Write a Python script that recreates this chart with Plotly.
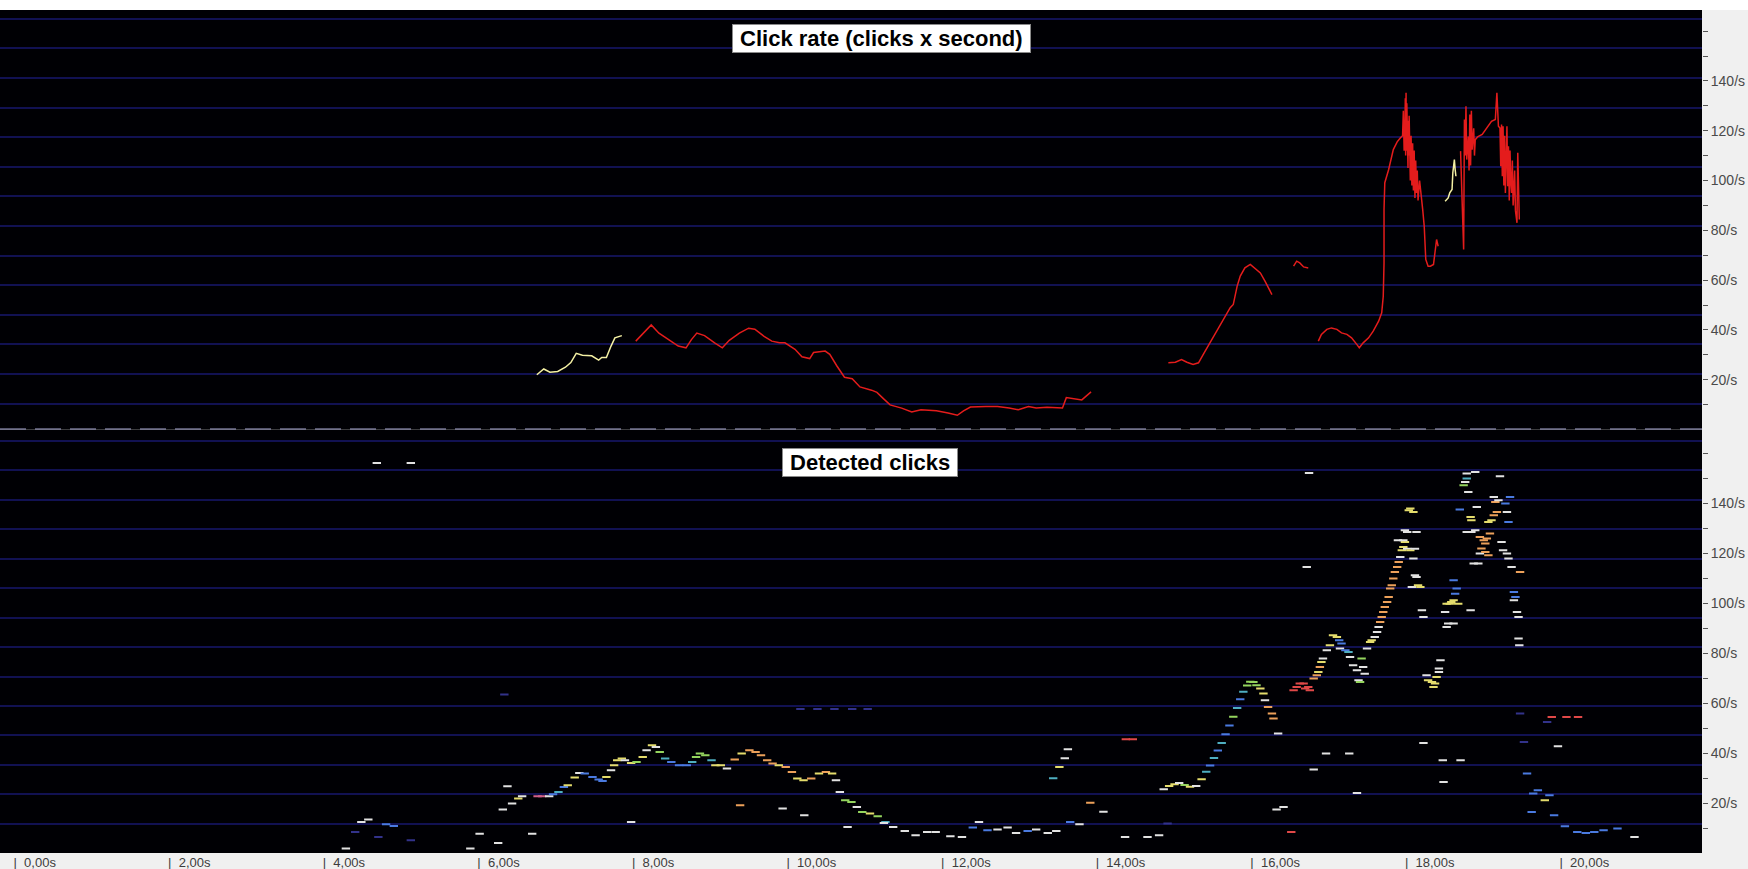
import plotly.graph_objects as go

# ---------------- data ----------------
# Click rate (top panel), seconds / clicks per second.  None = gap in the curve
rate_red_t = [8.05, 8.15, 8.25, 8.35, 8.47, 8.60, 8.70, 8.77, 8.84, 8.94, 9.07, 9.17, 9.26, 9.39, 9.51,
              9.59, 9.71, 9.81, 9.91, 9.98, 10.11, 10.20, 10.30, 10.35, 10.50, 10.56, 10.65, 10.75, 10.85,
              10.95, 11.10, 11.17, 11.25, 11.34, 11.49, 11.62, 11.74, 11.94, 12.09, 12.21, 12.29, 12.38,
              12.58, 12.73, 12.88, 13.00, 13.13, 13.23, 13.37, 13.57, 13.62, 13.72, 13.82, 13.94,
              None,
              14.94, 15.03, 15.11, 15.18, 15.26, 15.33, 15.39, 15.48, 15.57, 15.65, 15.74, 15.78, 15.83,
              15.87, 15.93, 16.00, 16.06, 16.13, 16.19, 16.23, 16.28,
              None,
              16.56, 16.60, 16.64, 16.69, 16.75,
              None,
              16.88, 16.92, 16.99, 17.05, 17.12, 17.18, 17.25, 17.31, 17.38, 17.41, 17.46, 17.53, 17.59,
              17.66, 17.70, 17.72, 17.73, 17.73, 17.74, 17.79, 17.85, 17.90, 17.94, 17.97, 17.98, 17.99,
              18.00, 18.005, 18.01, 18.015, 18.02, 18.025, 18.03, 18.035, 18.04, 18.045, 18.05, 18.055,
              18.06, 18.065, 18.07, 18.08, 18.09, 18.10, 18.11, 18.12, 18.13, 18.14, 18.15, 18.16, 18.17,
              18.19, 18.21, 18.23, 18.25, 18.26, 18.27, 18.30, 18.33, 18.37, 18.39, 18.41, 18.43,
              None,
              18.72, 18.76, 18.77, 18.78, 18.79, 18.80, 18.82, 18.83, 18.84, 18.85, 18.86, 18.87, 18.89,
              18.90, 18.91, 18.94, 19.00, 19.06, 19.12, 19.17, 19.19, 19.21, 19.23, 19.24, 19.25, 19.26,
              19.27, 19.28, 19.29, 19.30, 19.32, 19.33, 19.34, 19.35, 19.36, 19.37, 19.38, 19.39, 19.40,
              19.41, 19.42, 19.43, 19.45, 19.46, 19.47, 19.48]
rate_red_v = [35.5, 38.7, 42.0, 38.7, 36.1, 33.5, 32.8, 36.1, 38.7, 37.7, 34.8, 32.8, 35.8, 38.7, 40.7,
              40.3, 37.4, 35.5, 34.8, 34.8, 32.2, 29.2, 28.5, 30.9, 31.5, 30.2, 25.6, 21.0, 20.4,
              17.1, 15.8, 14.9, 12.5, 9.9, 8.6, 7.0, 7.9, 7.5, 6.6, 5.7, 7.5, 9.0,
              9.2, 9.2, 8.6, 7.9, 9.2, 8.6, 8.9, 8.6, 12.8, 12.5, 11.9, 15.1,
              None,
              26.8, 27.0, 28.1, 27.0, 26.1, 26.8, 30.1, 34.8, 39.5, 44.2, 48.9, 50.2, 57.6,
              61.6, 64.9, 66.3, 64.9, 62.9, 59.6, 56.9, 54.2,
              None,
              65.6, 67.6, 66.9, 65.3, 64.9,
              None,
              35.5, 38.2, 40.2, 40.8, 40.2, 38.8, 38.2, 36.8, 34.1, 32.8, 34.8, 36.8, 39.5,
              43.5, 46.9, 53.5, 66.9, 88.4, 99.1, 104.4, 112.4, 115.5, 117.1, 118.0, 128.0, 112.0,
              118.5, 133.0, 110.0, 135.2, 112.0, 131.0, 108.0, 127.0, 105.0, 124.0, 110.0, 126.0,
              103.0, 120.0, 100.0, 118.0, 98.0, 115.0, 96.0, 112.0, 93.0, 108.0, 95.0, 104.0, 92.0,
              100.0, 92.4, 88.4, 81.6, 73.6, 68.3, 65.6, 65.6, 66.3, 71.0, 76.3, 73.6,
              None,
              111.8, 72.3, 124.5, 110.0, 129.8, 108.4, 117.7, 104.0, 126.5, 106.0, 128.0, 112.4, 121.0,
              110.0, 116.4, 117.5, 118.5, 121.1, 123.8, 124.5, 135.2, 121.8, 121.1, 105.7, 122.5, 101.7,
              121.8, 98.0, 118.0, 95.0, 121.8, 97.7, 113.8, 92.0, 112.0, 99.1, 95.0, 108.0, 90.0,
              96.4, 104.0, 88.0, 83.0, 111.1, 86.0, 84.3]

rate_yellow_t = [6.77, 6.86, 6.94, 7.04, 7.14, 7.21, 7.28, 7.36, 7.48, 7.57, 7.61, 7.67, 7.73, 7.78, 7.87,
                 None,
                 18.52, 18.56, 18.58, 18.61, 18.62, 18.64, 18.65, 18.66]
rate_yellow_v = [22.0, 24.3, 23.0, 23.3, 25.0, 26.9, 30.6, 29.8, 29.6, 27.9, 28.9, 28.9, 33.5, 36.8, 37.7,
                 None,
                 91.7, 93.0, 95.0, 96.4, 103.1, 108.4, 104.4, 101.7]

# Detected clicks (bottom panel): time, instantaneous rate, colour class
clicks = [
    (4.30, 1.8, "W"), (4.42, 8.4, "D"), (4.50, 12.4, "W"), (4.59, 13.4, "W"), (4.72, 6.4, "D"),
    (4.82, 11.5, "B"), (4.92, 10.8, "B"), (5.14, 5.1, "D"), (4.70, 156.0, "W"), (5.14, 156.0, "W"),
    (5.91, 1.8, "W"), (6.03, 7.7, "W"), (6.27, 4.0, "W"), (6.33, 17.4, "W"), (6.39, 26.7, "W"),
    (6.35, 63.4, "D"), (6.71, 7.7, "W"),
    (6.45, 19.8, "W"), (6.53, 21.8, "Y"), (6.58, 22.7, "W"), (6.78, 22.7, "P"), (6.84, 22.7, "P"),
    (6.93, 22.7, "W"), (6.98, 23.5, "B"), (7.05, 24.4, "T"), (7.12, 26.4, "B"), (7.17, 27.1, "Y"),
    (7.26, 30.2, "Y"), (7.32, 32.0, "W"), (7.39, 31.8, "B"), (7.49, 30.4, "B"), (7.57, 29.4, "B"),
    (7.62, 28.8, "B"), (7.67, 30.4, "Y"), (7.73, 33.1, "W"), (7.77, 35.1, "Y"), (7.81, 37.1, "Y"),
    (7.87, 37.8, "Y"), (7.91, 37.1, "W"), (7.99, 36.0, "Y"), (8.06, 36.4, "G"), (8.14, 38.4, "Y"),
    (8.19, 41.1, "W"), (8.26, 43.1, "Y"), (8.31, 42.4, "W"), (8.36, 40.4, "G"), (8.43, 37.8, "T"),
    (8.51, 36.4, "B"), (8.61, 35.1, "B"), (8.71, 35.1, "B"), (8.78, 36.4, "T"), (8.83, 38.4, "G"),
    (8.88, 39.8, "G"), (8.95, 39.1, "G"), (9.03, 37.1, "T"), (9.08, 35.1, "Y"), (9.15, 35.1, "Y"),
    (9.23, 33.8, "W"), (9.33, 37.4, "O"), (9.42, 39.8, "Y"), (9.52, 41.1, "O"), (9.60, 40.4, "O"),
    (9.67, 39.1, "O"), (9.75, 37.1, "O"), (9.82, 35.8, "O"), (9.90, 35.1, "Y"), (9.99, 34.4, "O"),
    (10.07, 32.4, "O"), (10.14, 29.8, "Y"), (10.22, 29.1, "Y"), (10.32, 29.8, "O"), (10.42, 31.8, "Y"),
    (10.51, 32.4, "O"), (10.59, 31.8, "Y"), (10.64, 29.1, "W"), (10.69, 24.4, "W"), (10.76, 21.1, "G"),
    (10.84, 20.4, "G"), (10.91, 18.4, "W"), (10.98, 16.4, "G"), (11.08, 15.8, "Y"), (11.18, 14.7, "G"),
    (11.28, 12.4, "T"), (11.38, 10.4, "W"),
    (7.99, 12.4, "W"), (9.40, 19.1, "O"), (9.95, 17.8, "W"), (10.23, 15.1, "W"), (10.79, 10.4, "W"),
    (10.18, 57.6, "D"), (10.40, 57.6, "D"), (10.62, 57.6, "D"), (10.85, 57.6, "D"), (11.05, 57.6, "D"),
    (11.26, 12.0, "W"), (11.53, 8.8, "W"), (11.67, 7.1, "W"), (11.82, 8.4, "W"), (11.93, 8.4, "W"),
    (12.12, 6.7, "W"), (12.27, 6.4, "W"), (12.41, 10.2, "B"), (12.49, 12.4, "W"), (12.60, 9.1, "B"),
    (12.73, 9.4, "W"), (12.86, 10.2, "W"), (12.97, 8.0, "W"), (13.12, 8.8, "B"), (13.23, 9.4, "W"),
    (13.38, 8.0, "W"), (13.49, 8.8, "W"), (13.67, 12.4, "B"), (13.79, 11.5, "W"), (14.38, 6.4, "W"),
    (14.67, 6.4, "W"), (14.82, 7.1, "W"), (14.93, 11.8, "D"), (16.53, 8.4, "R"),
    (13.45, 29.9, "T"), (13.53, 34.4, "Y"), (13.60, 37.9, "W"), (13.64, 41.5, "W"), (13.93, 20.1, "O"),
    (14.10, 16.5, "W"), (14.39, 45.5, "R"), (14.48, 45.5, "R"),
    (14.88, 25.5, "W"), (14.95, 26.8, "Y"), (15.02, 27.5, "Y"), (15.08, 28.0, "W"), (15.15, 27.2, "G"),
    (15.22, 26.5, "Y"), (15.30, 26.8, "W"), (15.37, 29.5, "Y"), (15.43, 32.5, "T"), (15.48, 35.0, "B"),
    (15.53, 38.0, "T"), (15.58, 41.0, "B"), (15.63, 44.0, "T"), (15.68, 47.5, "B"), (15.73, 51.0, "B"),
    (15.78, 54.5, "G"), (15.83, 58.0, "T"), (15.87, 61.5, "B"), (15.91, 64.5, "T"), (15.96, 67.0, "G"),
    (16.00, 68.5, "G"),
    (16.04, 68.4, "G"), (16.08, 67.1, "G"), (16.13, 65.8, "Y"), (16.17, 63.8, "Y"), (16.19, 61.1, "W"),
    (16.23, 58.4, "O"), (16.28, 55.8, "O"), (16.30, 53.8, "O"), (16.36, 47.8, "W"),
    (16.56, 65.1, "R"), (16.60, 66.4, "R"), (16.64, 67.8, "R"), (16.69, 67.8, "R"), (16.71, 65.8, "R"),
    (16.75, 66.4, "R"), (16.77, 65.1, "R"),
    (16.82, 69.8, "O"), (16.86, 71.1, "O"), (16.88, 72.4, "Y"), (16.90, 74.4, "O"), (16.92, 76.4, "Y"),
    (16.94, 77.8, "W"), (16.99, 81.1, "W"), (17.03, 83.1, "Y"), (17.07, 87.1, "Y"), (17.12, 86.4, "Y"),
    (17.15, 85.1, "B"), (17.18, 83.8, "B"), (17.16, 81.8, "W"), (17.23, 81.1, "B"), (17.27, 80.4, "T"),
    (17.29, 78.4, "W"), (17.33, 75.1, "W"), (17.38, 73.1, "W"), (17.40, 69.1, "W"), (17.42, 68.4, "G"),
    (17.44, 77.8, "G"), (17.46, 74.4, "W"), (17.48, 71.7, "W"),
    (17.51, 81.8, "W"), (17.55, 84.4, "Y"), (17.57, 85.1, "Y"), (17.61, 86.4, "W"), (17.64, 88.4, "W"),
    (17.66, 90.4, "W"), (17.68, 92.4, "O"), (17.70, 94.4, "O"), (17.72, 96.4, "O"), (17.74, 98.4, "O"),
    (17.77, 100.4, "O"), (17.79, 102.4, "O"), (17.81, 105.8, "O"), (17.83, 107.1, "O"), (17.85, 109.8, "O"),
    (17.87, 112.4, "O"), (17.90, 114.4, "O"), (17.92, 116.4, "O"), (17.94, 118.4, "W"), (17.96, 121.1, "Y"),
    (17.98, 122.4, "Y"), (18.00, 124.4, "Y"), (18.03, 128.4, "W"), (18.05, 137.1, "Y"), (18.07, 137.8, "Y"),
    (18.11, 136.4, "Y"),
    (17.91, 125.1, "W"), (17.98, 125.1, "W"), (18.03, 121.7, "W"), (18.07, 121.1, "Y"), (18.13, 121.7, "W"),
    (18.00, 129.1, "W"), (18.15, 128.4, "W"), (18.11, 117.8, "W"), (18.09, 106.4, "W"), (18.13, 111.1, "W"),
    (18.17, 107.1, "Y"), (18.20, 106.4, "Y"), (18.15, 110.4, "W"), (18.22, 97.1, "W"), (18.24, 94.4, "W"),
    (16.73, 114.4, "W"), (16.76, 152.0, "W"),
    (18.28, 71.1, "W"), (18.30, 69.1, "Y"), (18.35, 68.4, "Y"), (18.39, 67.8, "Y"), (18.37, 66.4, "Y"),
    (18.41, 70.4, "Y"), (18.44, 72.4, "W"), (18.46, 77.1, "W"), (18.44, 73.8, "W"),
    (18.52, 96.4, "W"), (18.54, 99.7, "Y"), (18.58, 99.7, "Y"), (18.60, 100.4, "Y"), (18.63, 101.1, "Y"),
    (18.65, 103.7, "B"), (18.67, 105.8, "B"), (18.63, 109.1, "B"), (18.69, 99.7, "Y"), (18.56, 91.8, "W"),
    (18.63, 91.8, "W"), (18.54, 90.4, "W"),
    (18.71, 137.4, "B"), (18.76, 147.1, "G"), (18.78, 148.4, "W"), (18.80, 149.8, "T"), (18.82, 144.4, "W"),
    (18.80, 151.8, "W"), (18.91, 152.4, "W"), (18.85, 134.4, "Y"), (18.86, 133.1, "Y"), (18.93, 138.4, "W"),
    (18.91, 129.1, "W"), (18.97, 126.4, "O"), (19.02, 125.1, "O"), (19.04, 123.8, "O"), (19.06, 125.8, "O"),
    (18.99, 121.8, "O"), (18.97, 119.8, "W"), (19.04, 120.4, "O"), (19.08, 119.1, "O"), (18.89, 115.8, "W"),
    (18.95, 115.8, "W"), (19.10, 127.8, "O"), (19.15, 135.1, "O"), (19.19, 136.4, "O"), (19.12, 133.1, "Y"),
    (19.08, 132.4, "Y"), (19.17, 140.4, "O"), (19.21, 141.1, "W"), (19.15, 142.4, "W"), (19.23, 150.7, "W"),
    (19.25, 124.4, "W"), (19.27, 121.1, "W"), (19.32, 119.8, "W"), (19.34, 117.8, "W"), (19.30, 139.8, "B"),
    (19.36, 142.4, "B"), (19.34, 132.4, "B"), (19.32, 136.4, "W"), (19.38, 114.4, "W"), (19.49, 112.4, "O"),
    (19.41, 104.4, "B"), (19.43, 102.4, "B"), (19.41, 101.1, "W"), (19.45, 96.4, "W"), (19.47, 94.4, "W"),
    (19.47, 85.8, "W"), (19.48, 83.1, "W"), (18.85, 97.1, "W"), (18.86, 128.4, "W"), (18.80, 128.4, "W"),
    (19.49, 55.8, "D"), (19.54, 44.4, "D"), (19.84, 52.4, "D"), (19.90, 54.4, "R"), (20.09, 54.4, "R"),
    (20.24, 54.4, "R"), (19.98, 42.7, "W"), (19.58, 31.8, "B"), (19.66, 23.8, "B"), (19.72, 25.1, "B"),
    (19.81, 21.1, "Y"), (19.87, 23.1, "B"), (19.64, 16.4, "B"), (19.93, 15.1, "B"), (20.07, 10.7, "B"),
    (18.24, 44.0, "W"), (18.49, 37.1, "W"), (18.72, 37.1, "W"), (18.50, 28.4, "W"), (17.38, 24.0, "W"),
    (16.82, 33.4, "W"), (16.98, 39.8, "W"), (17.28, 39.8, "W"), (16.34, 17.4, "W"), (16.43, 18.4, "W"),
    (20.23, 8.4, "B"), (20.34, 8.0, "B"), (20.45, 8.4, "B"), (20.57, 9.1, "B"), (20.75, 9.8, "B"),
    (20.97, 6.4, "W"),
]
click_t = [c[0] for c in clicks]
click_v = [c[1] for c in clicks]
click_cls = [c[2] for c in clicks]

x_tick_vals = [0, 2, 4, 6, 8, 10, 12, 14, 16, 18, 20]
x_tick_labels = ["0,00s", "2,00s", "4,00s", "6,00s", "8,00s", "10,00s", "12,00s", "14,00s",
                 "16,00s", "18,00s", "20,00s"]
y_tick_vals = [10, 20, 30, 40, 50, 60, 70, 80, 90, 100, 110, 120, 130, 140, 150, 160]
y_tick_labels = ["", "20/s", "", "40/s", "", "60/s", "", "80/s", "", "100/s", "", "120/s", "",
                 "140/s", "", ""]

title_top = "Click rate (clicks x second)"
title_bottom = "Detected clicks"

# ---------------- style ----------------
CLS_COLORS = {"W": "#e2e2e2", "Y": "#e4dc6c", "O": "#eca05a", "R": "#e04848", "G": "#94d45e",
              "B": "#4a7ae0", "T": "#4eaec0", "D": "#32328a", "P": "#d0608a"}
GRID = "#111152"
FONT = "Arial, Liberation Sans, sans-serif"
NBSP = "\u00a0"

W, H = 1748, 869
ML, MR, MT, MB = 0, 46, 10, 16
plot_h = H - MT - MB
split_px = 429.5                      # y pixel of the dashed separator
split = (H - MB - split_px) / plot_h  # paper fraction
bot_range = [0, (H - MB - split_px) / 2.5]
top_range = [0, (split_px - MT) / 2.49]
x_range = [-13.5 / 77.3, (W - MR - 13.5) / 77.3]

fig = go.Figure()

fig.add_trace(go.Scatter(x=rate_red_t, y=rate_red_v, mode="lines", xaxis="x", yaxis="y2",
                         line=dict(color="#e41c1c", width=1.5), connectgaps=False,
                         hoverinfo="skip", showlegend=False))
fig.add_trace(go.Scatter(x=rate_yellow_t, y=rate_yellow_v, mode="lines", xaxis="x", yaxis="y2",
                         line=dict(color="#f4f0a4", width=1.5), connectgaps=False,
                         hoverinfo="skip", showlegend=False))
fig.add_trace(go.Scatter(x=click_t, y=click_v, mode="markers", xaxis="x", yaxis="y",
                         marker=dict(symbol="line-ew", size=6,
                                     line=dict(width=2, color=[CLS_COLORS[c] for c in click_cls])),
                         hoverinfo="skip", showlegend=False))
# empty traces to register the label axes
fig.add_trace(go.Scatter(x=[], y=[], xaxis="x", yaxis="y3", showlegend=False, hoverinfo="skip"))
fig.add_trace(go.Scatter(x=[], y=[], xaxis="x", yaxis="y4", showlegend=False, hoverinfo="skip"))

grid_axis = dict(showticklabels=False, ticks="", showline=False, zeroline=False,
                 showgrid=True, gridcolor=GRID, gridwidth=2, tickmode="linear", fixedrange=True)
label_axis = dict(side="right", anchor="x", tickmode="array", tickvals=y_tick_vals,
                  ticktext=y_tick_labels, ticks="outside", ticklen=5, tickcolor="#555555",
                  tickwidth=1, showgrid=False, zeroline=False, showline=False,
                  tickfont=dict(family=FONT, size=14, color="#4a4a4a"), fixedrange=True)

title_style = dict(xref="paper", yref="paper", showarrow=False,
                   font=dict(family=FONT, size=22, color="#000000"), bgcolor="#ffffff",
                   bordercolor="#8a8a8a", borderwidth=1, borderpad=1,
                   xanchor="center", yanchor="middle")

fig.update_layout(
    width=W, height=H,
    margin=dict(l=ML, r=MR, t=MT, b=MB, pad=0),
    paper_bgcolor="#f0f0f0",
    plot_bgcolor="#000004",
    showlegend=False,
    xaxis=dict(range=x_range, anchor="y", showgrid=False, zeroline=False, showline=False,
               tickmode="array", tickvals=x_tick_vals,
               ticktext=["|  " + s for s in x_tick_labels], ticks="",
               ticklabelposition="outside right",
               tickfont=dict(family=FONT, size=13, color="#3c3c3c"), fixedrange=True),
    yaxis=dict(domain=[0, split], range=bot_range, anchor="x", tick0=11.7, dtick=11.78, **grid_axis),
    yaxis2=dict(domain=[split, 1], range=top_range, anchor="x", tick0=10.4, dtick=11.89, **grid_axis),
    yaxis3=dict(overlaying="y", range=bot_range, **label_axis),
    yaxis4=dict(overlaying="y2", range=top_range, **label_axis),
    shapes=[
        dict(type="rect", xref="paper", yref="paper", x0=-0.01, x1=W / (W - MR) + 0.01,
             y0=1, y1=1 + (MT + 2) / plot_h, fillcolor="#ffffff", line=dict(width=0), layer="below"),
        dict(type="line", xref="paper", yref="y2", x0=0, x1=1, y0=0, y1=0,
             line=dict(color="#aaaad6", width=2, dash="26px,9px")),
    ],
    annotations=[
        dict(text="<b>" + NBSP + title_top + NBSP + "</b>",
             x=881 / (W - MR), y=(H - MB - 38.5) / plot_h, **title_style),
        dict(text="<b>" + NBSP + title_bottom + NBSP + "</b>",
             x=869.5 / (W - MR), y=(H - MB - 462) / plot_h, **title_style),
    ],
)

fig.write_html("out.html")
